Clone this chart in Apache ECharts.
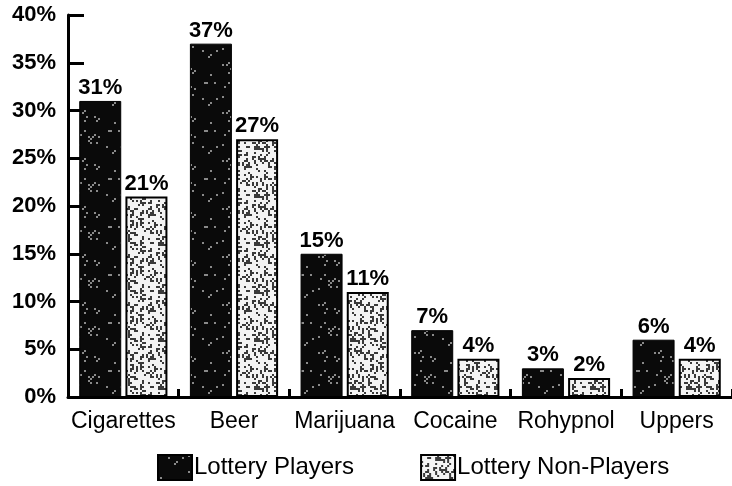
<!DOCTYPE html>
<html>
<head>
<meta charset="utf-8">
<script src="https://cdn.jsdelivr.net/npm/echarts@6/dist/echarts.min.js"></script>
<style>
  html, body { margin: 0; padding: 0; background: #fff; }
  #chart { width: 732px; height: 486px; }
</style>
</head>
<body>
<div id="chart"></div>
<script>
const categories = ['Cigarettes', 'Beer', 'Marijuana', 'Cocaine', 'Rohypnol', 'Uppers']
const players = [31, 37, 15, 7, 3, 6]
const nonPlayers = [21, 27, 11, 4, 2, 4]
const yTicks = [0, 5, 10, 15, 20, 25, 30, 35, 40]

// speckled fill like the scanned print (fixed seed, so it looks the same every time)
const makeSpeckle = (base, dot, density, seed) => {
  const c = document.createElement('canvas')
  c.width = 48
  c.height = 48
  const ctx = c.getContext('2d')
  ctx.fillStyle = base
  ctx.fillRect(0, 0, 48, 48)
  ctx.fillStyle = dot
  let s = seed
  const next = () => {
    s = (s * 1103515245 + 12345) % 2147483648
    return s / 2147483648
  }
  for (let y = 0; y < 48; y += 2) {
    for (let x = 0; x < 48; x += 2) {
      if (next() < density) ctx.fillRect(x, y, 2, 2)
    }
  }
  return c
}

const darkFill = { image: makeSpeckle('#0a0a0a', '#8a8a8a', 0.04, 7), repeat: 'repeat' }
const lightFill = { image: makeSpeckle('#f4f4f4', '#3a3a3a', 0.3, 11), repeat: 'repeat' }

const chart = echarts.init(document.getElementById('chart'))

const font = 'Liberation Sans, Arial, sans-serif'

const barLabel = {
  show: true,
  position: 'top',
  distance: 2,
  formatter: '{c}%',
  color: '#000',
  fontFamily: font,
  fontSize: 22,
  fontWeight: 'bold'
}

const option = {
  animation: false,
  grid: { left: 68, width: 666, top: 15, bottom: 89 },
  legend: {
    top: 449,
    left: 152,
    icon: 'rect',
    itemWidth: 34,
    itemHeight: 25,
    itemGap: 66,
    textStyle: { fontFamily: font, fontSize: 24, color: '#000', padding: [0, 0, 0, -3] },
    data: ['Lottery Players', 'Lottery Non-Players']
  },
  xAxis: {
    type: 'category',
    data: categories,
    axisLine: { lineStyle: { color: '#000', width: 3 } },
    axisTick: { show: true, inside: true, length: 8, lineStyle: { color: '#000', width: 3 } },
    axisLabel: { interval: 0, color: '#000', fontFamily: font, fontSize: 23, margin: 13 }
  },
  yAxis: {
    type: 'value',
    min: 0,
    max: 40,
    interval: 5,
    axisLine: { show: true, lineStyle: { color: '#000', width: 3 } },
    axisTick: { show: true, inside: true, length: 16, lineStyle: { color: '#000', width: 3 } },
    splitLine: { show: false },
    axisLabel: {
      color: '#000',
      fontFamily: font,
      fontSize: 22,
      fontWeight: 'bold',
      margin: 12,
      formatter: v => (yTicks.includes(v) ? v + '%' : '')
    }
  },
  series: [
    {
      name: 'Lottery Players',
      type: 'bar',
      data: players,
      barWidth: 42,
      barGap: '10%',
      itemStyle: { color: darkFill, borderColor: '#000', borderWidth: 1 },
      label: barLabel
    },
    {
      name: 'Lottery Non-Players',
      type: 'bar',
      data: nonPlayers,
      barWidth: 42,
      itemStyle: { color: lightFill, borderColor: '#000', borderWidth: 2 },
      label: barLabel
    }
  ]
}

chart.setOption(option)
</script>
</body>
</html>
